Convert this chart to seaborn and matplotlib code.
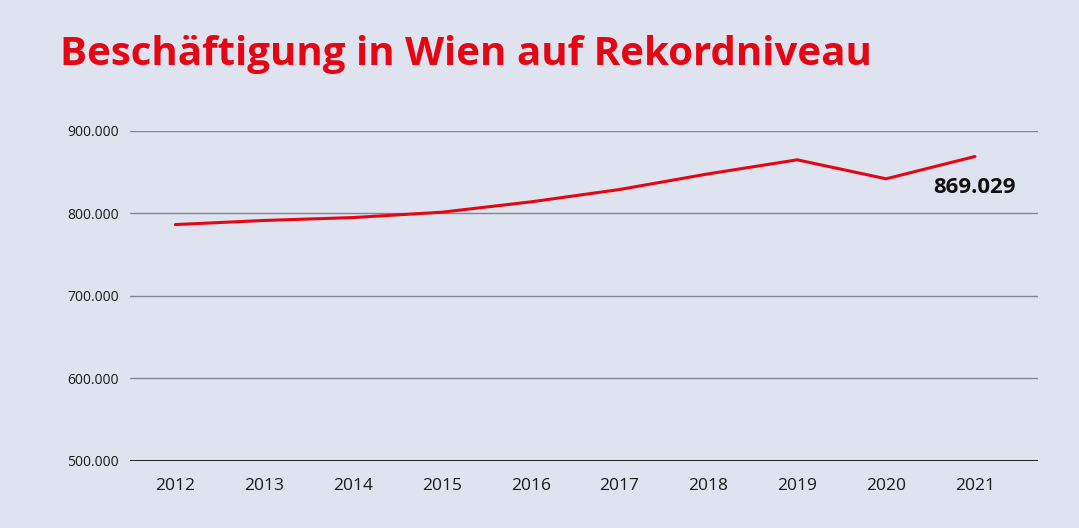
import pandas as pd
import matplotlib.pyplot as plt
import seaborn as sns

# Beschäftigte in Wien (Jahresdurchschnitt)
years = [2012, 2013, 2014, 2015, 2016, 2017, 2018, 2019, 2020, 2021]
employed = [786500, 791500, 795000, 801500, 814000, 829000, 848000, 865000, 842000, 869029]
y_ticks = [500000, 600000, 700000, 800000, 900000]
y_tick_labels = ['500.000', '600.000', '700.000', '800.000', '900.000']
title = 'Beschäftigung in Wien auf Rekordniveau'
last_label = '869.029'

BG = '#dfe2ef'
RED = '#e30613'


def main():
    df = pd.DataFrame({'Jahr': years, 'Beschäftigte': employed})

    sns.set_style('white', {'axes.facecolor': BG, 'figure.facecolor': BG})
    plt.rcParams['font.family'] = ['Open Sans', 'DejaVu Sans']

    fig = plt.figure(figsize=(10.79, 5.28), dpi=100)
    ax = fig.add_axes([0.1205, 0.127, 0.8415, 0.625])

    # Gitterlinien
    for t in y_ticks[1:]:
        ax.axhline(t, color='#85858f', lw=1.0, zorder=1)
    ax.axhline(y_ticks[0], color='#111111', lw=2.0, zorder=1)

    sns.lineplot(data=df, x='Jahr', y='Beschäftigte', color=RED, lw=2.2, ax=ax, zorder=3)

    ax.set_xlim(2011.49, 2021.71)
    ax.set_ylim(500000, 900000)
    ax.set_xticks(years)
    ax.set_xticklabels([str(y) for y in years], fontsize=12.5, color='#1a1a1a')
    ax.set_yticks(y_ticks)
    ax.set_yticklabels(y_tick_labels, fontsize=10, color='#1a1a1a')
    ax.tick_params(axis='both', length=0)
    ax.tick_params(axis='x', pad=12)
    ax.tick_params(axis='y', pad=8)
    ax.set_xlabel('')
    ax.set_ylabel('')
    for s in ax.spines.values():
        s.set_visible(False)

    ax.annotate(last_label, xy=(years[-1], employed[-1]), xytext=(0, -22),
                textcoords='offset points', ha='center', va='center',
                fontsize=16, fontweight='bold', color='#111111')

    fig.text(60 / 1079, 1 - 55 / 528, title, fontsize=29, fontweight='bold',
             color=RED, ha='left', va='center')

    fig.savefig('out.png', dpi=100, facecolor=BG)


if __name__ == '__main__':
    main()
